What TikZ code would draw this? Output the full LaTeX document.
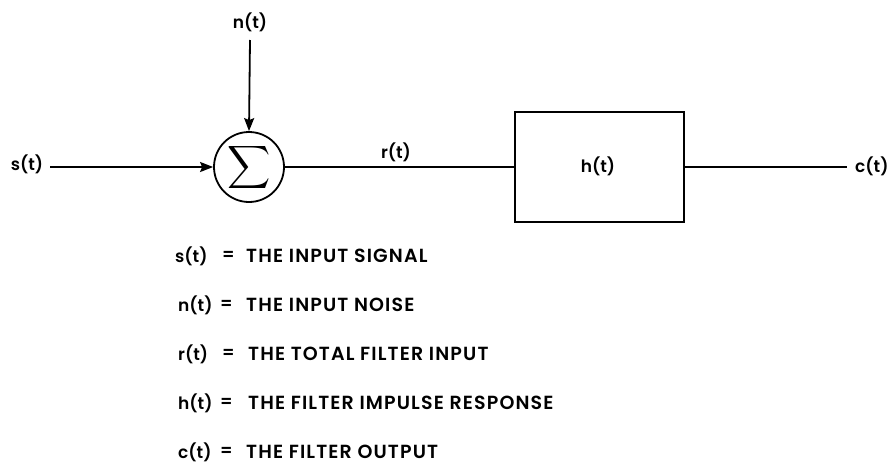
\documentclass[tikz,border=0pt]{standalone}
\usepackage{fontspec}
\setmainfont{Poppins}[BoldFont={Poppins SemiBold}]
\usetikzlibrary{arrows.meta}
\begin{document}
\begin{tikzpicture}[x=1pt,y=-1pt,
  lbl/.style={font=\fontsize{17}{19}\selectfont\bfseries, inner sep=0pt},
  leg/.style={font=\fontsize{19}{21}\selectfont\bfseries\addfontfeature{LetterSpace=6}, inner sep=0pt, anchor=west},
  wire/.style={line width=1.8pt},
  arr/.style={wire,-{Stealth[length=13pt,width=10pt,inset=2pt]}}]
\useasboundingbox (0,0) rectangle (892,469);
\node[lbl] (n) at (250,22) {n(t)};
\coordinate (ntop) at (250,40);
\node[draw, circle, line width=1.8pt, minimum size=70pt, inner sep=0pt] (sum) at (249,167)
  {\scalebox{3}{$\displaystyle\sum$}};
\node[lbl] (s) at (27,164) {s(t)};
\coordinate (sstart) at (50,167);
\node[draw, line width=2.2pt, minimum width=169pt, minimum height=110pt, inner sep=0pt] (box) at (599.5,167) {};
\node[lbl] (h) at (598,166) {h(t)};
\node[lbl] (r) at (396,152) {r(t)};
\coordinate (cend) at (847,167);
\node[lbl, anchor=west] (c) at (855,166) {c(t)};
\draw[arr] (ntop) -- (sum.north);
\draw[arr] (sstart) -- (sum.west);
\draw[wire] (sum.east) -- (box.west);
\draw[wire] (box.east) -- (cend);
% legend
\node[lbl, anchor=west] (l1a) at (175,256) {s(t)};
\node[lbl, anchor=west] (l1b) at (222,256) {=};
\node[leg] (l1c) at (246,256) {THE INPUT SIGNAL};
\node[lbl, anchor=west] (l2a) at (178,305) {n(t)};
\node[lbl, anchor=west] (l2b) at (220,305) {=};
\node[leg] (l2c) at (246,305) {THE INPUT NOISE};
\node[lbl, anchor=west] (l3a) at (178,354) {r(t)};
\node[lbl, anchor=west] (l3b) at (222,354) {=};
\node[leg] (l3c) at (248,354) {THE TOTAL FILTER INPUT};
\node[lbl, anchor=west] (l4a) at (178,403) {h(t)};
\node[lbl, anchor=west] (l4b) at (220,403) {=};
\node[leg] (l4c) at (248,403) {THE FILTER IMPULSE RESPONSE};
\node[lbl, anchor=west] (l5a) at (178,452) {c(t)};
\node[lbl, anchor=west] (l5b) at (220,452) {=};
\node[leg] (l5c) at (246,452) {THE FILTER OUTPUT};
\end{tikzpicture}
\end{document}
